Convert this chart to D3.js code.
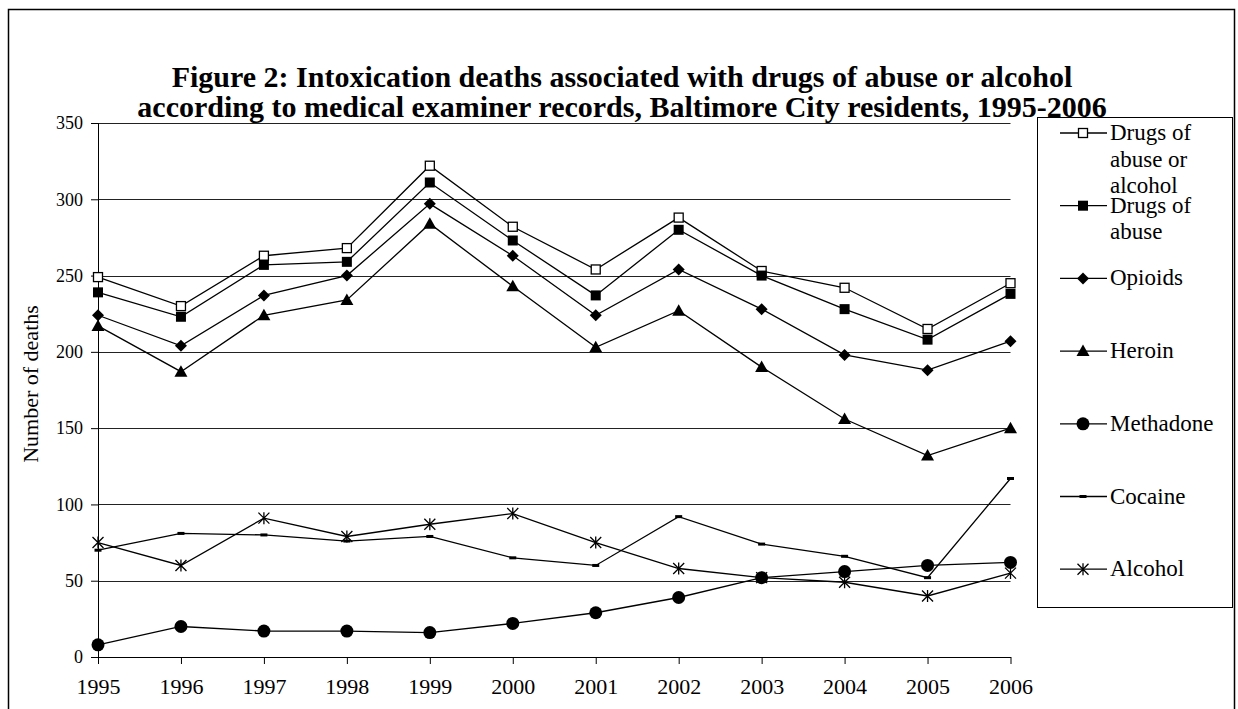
<!DOCTYPE html>
<html>
<head>
<meta charset="utf-8">
<script src="https://cdn.jsdelivr.net/npm/d3@7"></script>
<style>
  html, body { margin: 0; padding: 0; background: #fff; }
  svg { display: block; }
  text { font-family: "Liberation Serif", "Times New Roman", serif; fill: #000; }
</style>
</head>
<body>
<svg id="chart" width="1238" height="709"></svg>
<script>
// Intoxication deaths, Baltimore City residents, 1995-2006
const years = [1995, 1996, 1997, 1998, 1999, 2000, 2001, 2002, 2003, 2004, 2005, 2006];
const drugsOrAlcohol = [249, 230, 263, 268, 322, 282, 254, 288, 253, 242, 215, 245];
const drugsOfAbuse   = [239, 223, 257, 259, 311, 273, 237, 280, 250, 228, 208, 238];
const opioids        = [224, 204, 237, 250, 297, 263, 224, 254, 228, 198, 188, 207];
const heroin         = [217, 187, 224, 234, 284, 243, 203, 227, 190, 156, 132, 150];
const methadone      = [8, 20, 17, 17, 16, 22, 29, 39, 52, 56, 60, 62];
const cocaine        = [70, 81, 80, 76, 79, 65, 60, 92, 74, 66, 52, 117];
const alcohol        = [75, 60, 91, 79, 87, 94, 75, 58, 52, 49, 40, 55];

const yTicks = [0, 50, 100, 150, 200, 250, 300, 350];
const titleLines = [
  "Figure 2: Intoxication deaths associated with drugs of abuse or alcohol",
  "according to medical examiner records, Baltimore City residents, 1995-2006"
];
const yTitle = "Number of deaths";

const series = [
  { name: ["Drugs of", "abuse or", "alcohol"], values: drugsOrAlcohol, marker: "openSquare" },
  { name: ["Drugs of", "abuse"], values: drugsOfAbuse, marker: "square" },
  { name: ["Opioids"], values: opioids, marker: "diamond" },
  { name: ["Heroin"], values: heroin, marker: "triangle" },
  { name: ["Methadone"], values: methadone, marker: "circle" },
  { name: ["Cocaine"], values: cocaine, marker: "dash" },
  { name: ["Alcohol"], values: alcohol, marker: "asterisk" }
];

const svg = d3.select("#chart");

// outer frame
svg.append("rect")
  .attr("x", 8.5).attr("y", 9.5).attr("width", 1226).attr("height", 720)
  .attr("fill", "none").attr("stroke", "#000").attr("stroke-width", 1.5);

// title
svg.append("g").selectAll("text").data(titleLines).join("text")
  .attr("x", 622).attr("y", (d, i) => 87 + i * 30)
  .attr("text-anchor", "middle")
  .attr("font-size", 30).attr("font-weight", "bold")
  .text(d => d);

const x = d3.scalePoint().domain(years).range([98, 1010.5]);
const y = d3.scaleLinear().domain([0, 350]).range([657, 123]);

// gridlines
svg.append("g").selectAll("line").data(yTicks.filter(v => v > 0)).join("line")
  .attr("x1", x(years[0])).attr("x2", x(years[years.length - 1]))
  .attr("y1", d => Math.round(y(d)) + 0.5).attr("y2", d => Math.round(y(d)) + 0.5)
  .attr("stroke", "#222").attr("stroke-width", 1);

// axes
const yAxis = svg.append("g")
  .attr("transform", `translate(${x(years[0])},0)`)
  .call(d3.axisLeft(y).tickValues(yTicks).tickSize(7).tickPadding(8).tickFormat(d3.format("d")));
yAxis.selectAll("text").attr("font-size", 18).style("font-family", "Liberation Serif");
yAxis.selectAll("line, path").attr("stroke", "#000").attr("stroke-width", 1);

const xAxis = svg.append("g")
  .attr("transform", `translate(0,${y(0)})`)
  .call(d3.axisBottom(x).tickSize(7).tickPadding(14).tickSizeOuter(0));
xAxis.selectAll("text").attr("font-size", 22).style("font-family", "Liberation Serif");
xAxis.selectAll("line, path").attr("stroke", "#000").attr("stroke-width", 1);

// y title
svg.append("text")
  .attr("transform", `translate(38,384) rotate(-90)`)
  .attr("text-anchor", "middle")
  .attr("font-size", 22)
  .text(yTitle);

// marker drawing
function drawMarker(g, type) {
  switch (type) {
    case "openSquare":
      g.append("rect").attr("x", -4.5).attr("y", -4.5).attr("width", 9).attr("height", 9)
        .attr("fill", "#fff").attr("stroke", "#000").attr("stroke-width", 1.3);
      break;
    case "square":
      g.append("rect").attr("x", -5).attr("y", -5).attr("width", 10).attr("height", 10).attr("fill", "#000");
      break;
    case "diamond":
      g.append("path").attr("d", "M0,-6L6,0L0,6L-6,0Z").attr("fill", "#000");
      break;
    case "triangle":
      g.append("path").attr("d", "M0,-6.5L6.5,5L-6.5,5Z").attr("fill", "#000");
      break;
    case "circle":
      g.append("circle").attr("r", 6.5).attr("fill", "#000");
      break;
    case "dash":
      g.append("rect").attr("x", -3.5).attr("y", -1.5).attr("width", 7).attr("height", 3).attr("fill", "#000");
      break;
    case "asterisk":
      g.append("path").attr("d", "M0,-6V6M-5.5,-5.5L5.5,5.5M-5.5,5.5L5.5,-5.5")
        .attr("stroke", "#000").attr("stroke-width", 1.3).attr("fill", "none");
      break;
  }
}

// series lines and markers
const line = d3.line().x((d, i) => x(years[i])).y(d => y(d));
const plot = svg.append("g");
series.forEach(s => {
  plot.append("path").datum(s.values)
    .attr("d", line).attr("fill", "none").attr("stroke", "#000").attr("stroke-width", 1.3);
});
series.forEach(s => {
  plot.append("g").selectAll("g").data(s.values).join("g")
    .attr("transform", (d, i) => `translate(${x(years[i])},${y(d)})`)
    .each(function () { drawMarker(d3.select(this), s.marker); });
});

// legend
const legend = svg.append("g");
legend.append("rect")
  .attr("x", 1037.5).attr("y", 117.5).attr("width", 195).attr("height", 490)
  .attr("fill", "#fff").attr("stroke", "#000").attr("stroke-width", 1);
series.forEach((s, i) => {
  const ly = 133 + i * 72.7;
  const g = legend.append("g").attr("transform", `translate(0,${ly})`);
  g.append("line").attr("x1", 1060).attr("x2", 1107).attr("y1", 0).attr("y2", 0)
    .attr("stroke", "#000").attr("stroke-width", 1.3);
  const m = g.append("g").attr("transform", "translate(1083,0)");
  drawMarker(m, s.marker);
  g.selectAll("text").data(s.name).join("text")
    .attr("x", 1110).attr("y", (d, k) => 7 + k * 26.5)
    .attr("font-size", 23)
    .text(d => d);
});
</script>
</body>
</html>
